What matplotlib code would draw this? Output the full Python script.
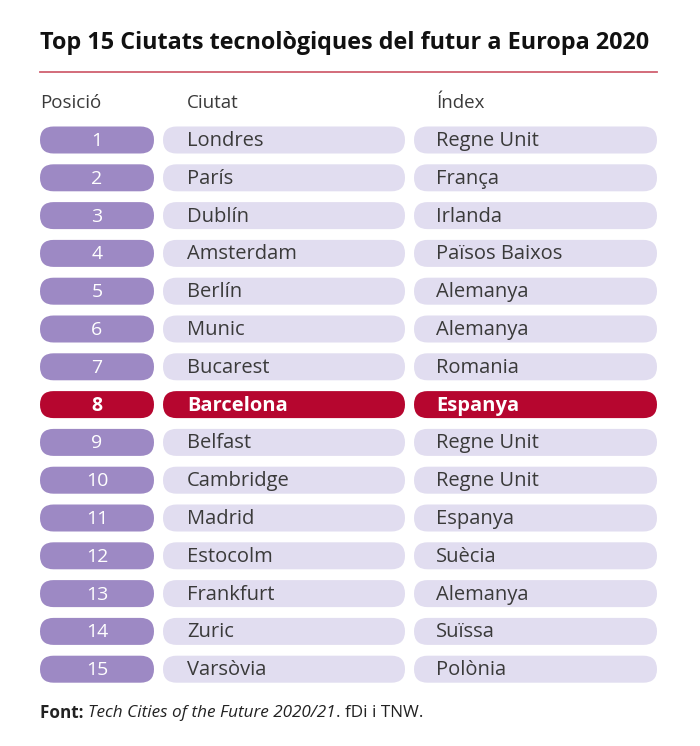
import matplotlib
matplotlib.use("Agg")
import matplotlib.pyplot as plt
from matplotlib.patches import FancyBboxPatch

plt.rcParams['font.family'] = ['Open Sans', 'DejaVu Sans']

# data
positions = list(range(1, 16))
cities = ["Londres", "París", "Dublín", "Amsterdam", "Berlín", "Munic", "Bucarest",
          "Barcelona", "Belfast", "Cambridge", "Madrid", "Estocolm", "Frankfurt",
          "Zuric", "Varsòvia"]
countries = ["Regne Unit", "França", "Irlanda", "Països Baixos", "Alemanya", "Alemanya",
             "Romania", "Espanya", "Regne Unit", "Regne Unit", "Espanya", "Suècia",
             "Alemanya", "Suïssa", "Polònia"]
highlight = "Barcelona"
headers = ["Posició", "Ciutat", "Índex"]
title = "Top 15 Ciutats tecnològiques del futur a Europa 2020"

W, H = 700, 746
fig = plt.figure(figsize=(W / 100, H / 100), dpi=100)
ax = fig.add_axes([0, 0, 1, 1])
ax.set_xlim(0, W)
ax.set_ylim(H, 0)
ax.axis("off")

purple = "#9d89c4"
lilac = "#e1ddf0"
red = "#b6062f"
txt = "#3a3a3a"

# layout in pixels
cols = [(40, 154), (163, 405), (414, 657)]
y0, dy, ph = 140, 37.8, 27

ax.text(40, 43, title, fontsize=16.8, fontweight="bold", color="#111111", va="center", ha="left")
ax.plot([40, 657], [72, 72], color="#d06070", lw=1.3)

hx = [40, 187, 436]
for x, h in zip(hx, headers):
    ax.text(x, 103, h, fontsize=13.5, color=txt, va="center", ha="left")

for i, (p, c, n) in enumerate(zip(positions, cities, countries)):
    y = y0 + i * dy
    hl = c == highlight
    for j, (xa, xb) in enumerate(cols):
        fc = red if hl else (purple if j == 0 else lilac)
        ax.add_patch(FancyBboxPatch((xa, y - ph / 2), xb - xa, ph,
                                    boxstyle="round,pad=0,rounding_size=%f" % (ph / 2),
                                    fc=fc, ec="none"))
    wt = "bold" if hl else "normal"
    ax.text((cols[0][0] + cols[0][1]) / 2, y + 1, str(p), fontsize=14, color="white",
            ha="center", va="center", fontweight=wt)
    ax.text(187, y + 1, c, fontsize=14.5, color="white" if hl else txt,
            ha="left", va="center", fontweight=wt)
    ax.text(436, y + 1, n, fontsize=14.5, color="white" if hl else txt,
            ha="left", va="center", fontweight=wt)

# footer with mixed styles
fig.canvas.draw()
r = fig.canvas.get_renderer()
x = 40
for s, st, w in [("Font: ", "normal", "bold"), ("Tech Cities of the Future 2020/21", "italic", "normal"),
                 (". fDi i TNW.", "normal", "normal")]:
    t = ax.text(x, 713, s, fontsize=12.3, style=st, fontweight=w, color="#222222", va="center", ha="left")
    bb = t.get_window_extent(renderer=r)
    x += bb.width

fig.savefig("out.png", dpi=100)
